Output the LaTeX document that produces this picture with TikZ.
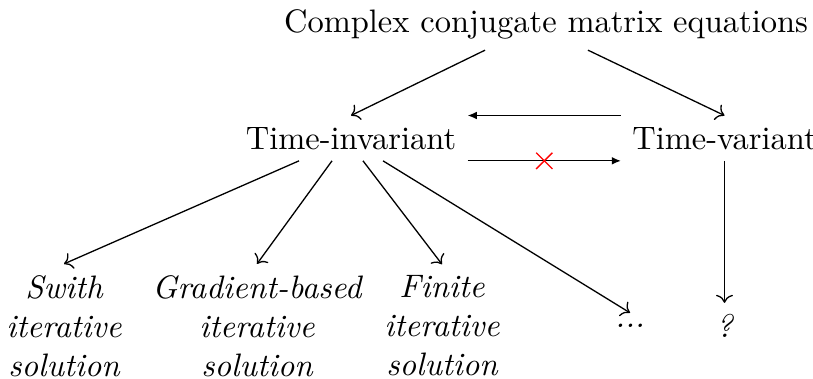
\documentclass[tikz,border=0pt]{standalone}
\usetikzlibrary{calc,arrows.meta,shapes.misc}
\begin{document}
\begin{tikzpicture}[x=0.3077pt,y=-0.3077pt,
  leaf/.style={align=center,font=\itshape},
  conn/.style={->},
  solid arrow/.style={-{Latex[length=2.8pt,width=2.4pt]}},
  nogo/.style={cross out,draw=red,minimum size=4.6pt,inner sep=0pt}]
\useasboundingbox (0,0) rectangle (813,379);
\node[anchor=base] (top) at (546,32) {Complex conjugate matrix equations};
\node[anchor=base] (ti) at (351,149) {Time-invariant};
\node[anchor=base] (tv) at (724.5,149) {Time-variant};
\node[leaf] (sw) at (64,326) {Swith\\iterative\\solution};
\node[leaf] (gr) at (257,326) {Gradient-based\\iterative\\solution};
\node[leaf] (fi) at (442,326) {Finite\\iterative\\solution};
\node[leaf] (dt) at (630,326) {...};
\node[leaf] (qu) at (724.5,326) {?};
\draw[conn] ($(top.south)+(-61,0)$) -- (ti.north);
\draw[conn] ($(top.south)+(42,0)$) -- (tv.north);
\draw[solid arrow] (tv.north west) -- (ti.north east);
\draw[solid arrow] (ti.south east) -- (tv.south west);
\node[nogo] (x) at ($(ti.south east)!0.5!(tv.south west)$) {};
\draw[conn] ($(ti.south)+(-52,0)$) -- (sw.north);
\draw[conn] ($(ti.south)+(-19,0)$) -- (gr.north);
\draw[conn] ($(ti.south)+(12,0)$) -- (fi.north);
\draw[conn] ($(ti.south)+(32,0)$) -- (dt.north);
\draw[conn] (tv.south) -- (qu.north);
\end{tikzpicture}
\end{document}
